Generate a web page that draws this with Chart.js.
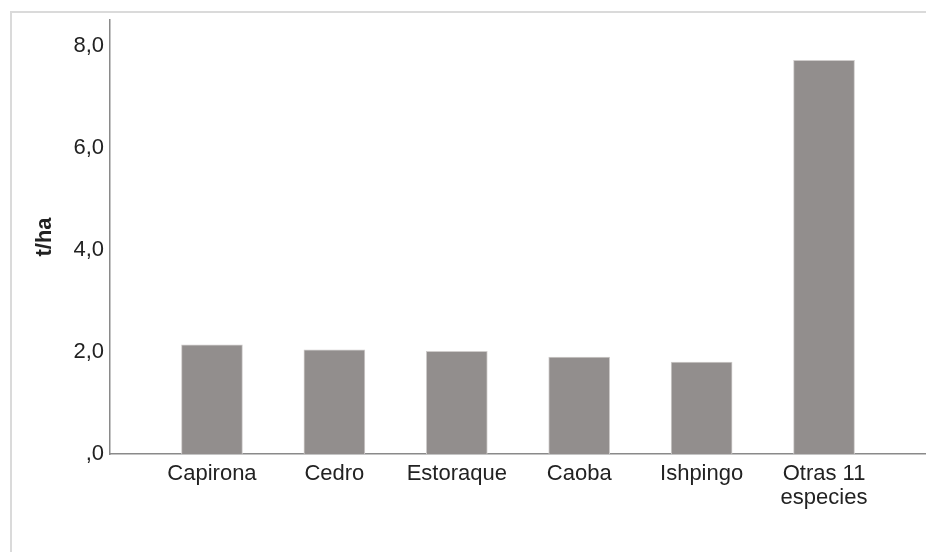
<!DOCTYPE html>
<html>
<head>
<meta charset="utf-8">
<script src="https://cdn.jsdelivr.net/npm/chart.js@4"></script>
<style>
  html, body { margin: 0; padding: 0; background: #fff; overflow: hidden; }
  .frame { position: absolute; left: 10px; top: 11px; width: 940px; height: 570px; border: 2px solid #dadada; }
  .chart-box { position: absolute; left: 0; top: 0; width: 926px; height: 552px; }
</style>
</head>
<body>
<div class="frame"></div>
<div class="chart-box"><canvas id="bar-chart"></canvas></div>
<script>
// Data
const categories = ['Capirona', 'Cedro', 'Estoraque', 'Caoba', 'Ishpingo', ['Otras 11', 'especies']]
const values = [2.14, 2.04, 2.01, 1.90, 1.80, 7.71]
const yTicks = [0, 2, 4, 6, 8]

// Bar Chart
const barChart = document.querySelector('#bar-chart')
if (barChart) {
  const fontFamily = '"Liberation Sans", Arial, sans-serif'

  new Chart(barChart, {
    type: 'bar',
    data: {
      datasets: [
        {
          data: values.map((v, i) => ({ x: i, y: v })),
          backgroundColor: '#928e8d',
          borderColor: '#cfcccb',
          borderWidth: 1,
          barThickness: 61
        }
      ]
    },
    options: {
      responsive: true,
      maintainAspectRatio: false,
      animation: false,
      layout: {
        padding: { top: 20, right: 0, bottom: 0, left: 0 }
      },
      plugins: {
        legend: { display: false },
        tooltip: { enabled: false }
      },
      scales: {
        x: {
          type: 'linear',
          min: -0.833,
          max: 5.833,
          offset: false,
          grid: { display: false, drawTicks: false, offset: false },
          border: { display: true, color: '#8a8a8a', width: 1.5 },
          afterBuildTicks: (scale) => {
            scale.ticks = categories.map((c, i) => ({ value: i }))
          },
          afterFit: (scale) => {
            scale.height = 98
          },
          ticks: {
            autoSkip: false,
            maxRotation: 0,
            padding: 8,
            color: '#222',
            font: { family: fontFamily, size: 22, lineHeight: 1.1 },
            callback: (value) => categories[value]
          }
        },
        y: {
          min: 0,
          max: 8.5,
          grid: { display: false, drawTicks: false },
          border: { display: true, color: '#8a8a8a', width: 1.5 },
          afterBuildTicks: (scale) => {
            scale.ticks = yTicks.map((v) => ({ value: v }))
          },
          afterFit: (scale) => {
            scale.width = 110
          },
          title: {
            display: true,
            text: 't/ha',
            color: '#222',
            font: { family: fontFamily, size: 22, weight: 'bold' },
            padding: { top: 32, bottom: 0 }
          },
          ticks: {
            padding: 6,
            color: '#222',
            font: { family: fontFamily, size: 22 },
            callback: (value) => value === 0 ? ',0' : value.toFixed(1).replace('.', ',')
          }
        }
      }
    }
  })
}
// End Bar Chart
</script>
</body>
</html>
